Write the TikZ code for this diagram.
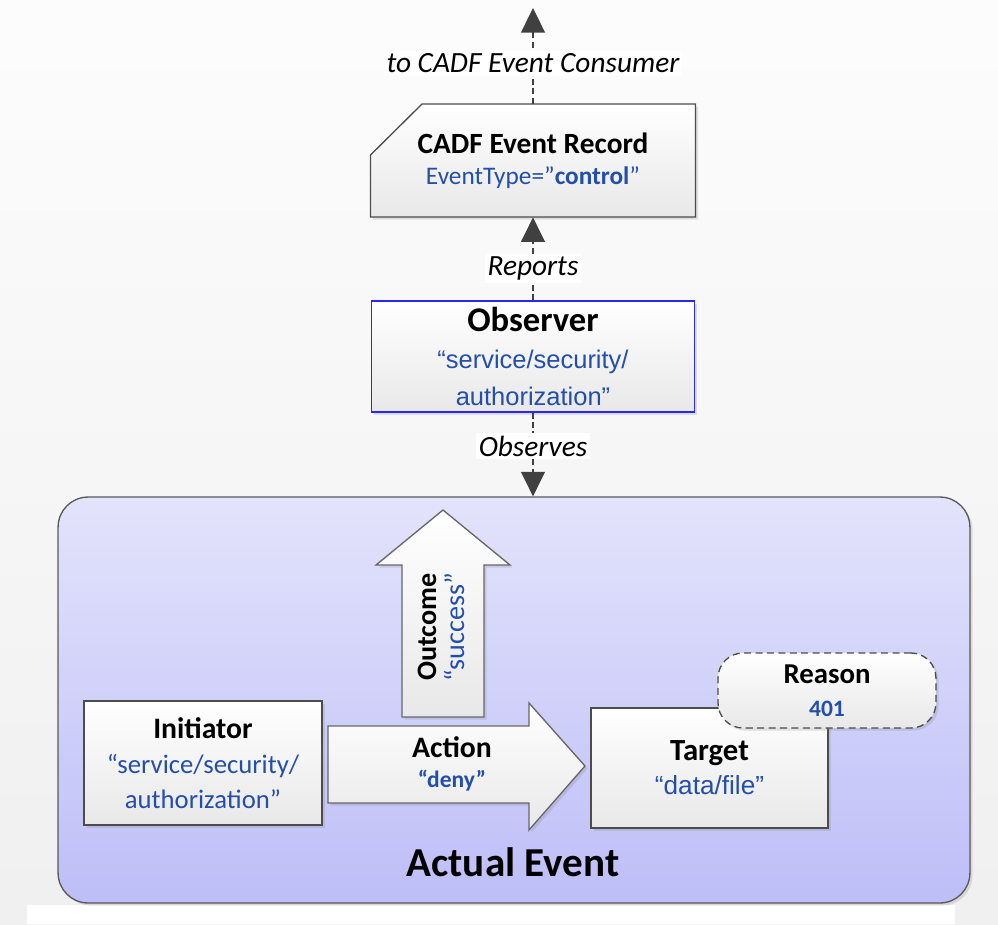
\documentclass[tikz,border=0pt]{standalone}
\usepackage{fontspec}
\setmainfont{Carlito}
\newfontfamily\arialf{Liberation Sans}
\usetikzlibrary{arrows.meta,shadows}
\definecolor{cadfblue}{RGB}{36,78,172}
\definecolor{obsblue}{RGB}{40,40,240}
\definecolor{evtop}{RGB}{227,227,252}
\definecolor{evbot}{RGB}{190,190,248}
\newcommand{\fs}[2]{\fontsize{#1}{#2}\selectfont}
\newcommand{\bl}[1]{\textcolor{cadfblue}{#1}}
\tikzset{
  boxfill/.style={top color=white, bottom color=black!9,
    drop shadow={opacity=0.22, shadow xshift=1.5pt, shadow yshift=-1.5pt}},
  box/.style={boxfill, draw=black!70, line width=0.75pt, align=center, inner sep=0pt},
  link/.style={draw=black!75, line width=0.7pt, dash pattern=on 3.5pt off 1.8pt,
    -{Triangle[width=13.6pt, length=14pt]}},
  lbl/.style={fill=white, inner sep=1.5pt, font=\fs{16.7}{18}\itshape}
}

\begin{document}
\begin{tikzpicture}[x=0.02cm, y=-0.02cm]
  \useasboundingbox (0,0) rectangle (998,924);
  \shade[top color=black!1, bottom color=black!6] (0,0) rectangle (998,924);
  \fill[white] (27,905) rectangle (955,924);

  \path[boxfill, draw=black!70, line width=0.75pt] (422,104) -- (695.5,104) -- (695.5,217)
    -- (370.5,217) -- (370.5,155) -- cycle;
  \node[minimum width=6.5cm, minimum height=2.26cm, align=center, font=\fs{16.7}{17.6}] (rec) at (533,160.5)
    {\textbf{CADF Event Record}\\ \bl{\fs{14.4}{17.6}EventType=”\textbf{control}”}};
  \node[box, draw=obsblue, minimum width=6.46cm, minimum height=2.22cm, font=\fs{14.5}{21}] (obs) at (533,356.5)
    {{\fs{19.7}{21}\bfseries Observer}\\ {\arialf\bl{“service/security/}}\\ {\arialf\bl{authorization”}}};
  \node[boxfill, top color=evtop, bottom color=evbot, draw=black!65, line width=0.75pt, rounded corners=0.6cm,
    minimum width=18.24cm, minimum height=8.12cm] (ev) at (514,700) {};
  \node[font=\fs{23.4}{23}\bfseries] (evl) at (513,862) {Actual Event};
  \coordinate (out) at (533,8);

  \draw[link] (rec.north) -- node[lbl, pos=0.42] {to CADF Event Consumer} (out);
  \draw[link] (obs.north) -- node[lbl, pos=0.38] {Reports} (rec.south);
  \draw[link] (obs.south) -- node[lbl, pos=0.4] {Observes} (ev.north -| obs.south);

  \path[boxfill, draw=black!60, line width=0.75pt] (402,717) -- (402,565) -- (376,565) -- (443,510)
    -- (510,565) -- (484,565) -- (484,717) -- cycle;
  \node[rotate=90, align=center, font=\fs{16}{16}] (oc) at (441,627) {\textbf{Outcome}\\ \bl{“success”}};
  \path[boxfill, draw=black!60, line width=0.75pt] (328,726) -- (529,726) -- (529,703) -- (585,766)
    -- (529,830) -- (529,803) -- (328,803) -- cycle;
  \node[align=center, font=\fs{16.9}{17}] (act) at (452,764) {\textbf{Action}\\ \bl{\fs{13.4}{17}\textbf{“deny”}}};

  \node[box, minimum width=4.76cm, minimum height=2.48cm, font=\fs{15.2}{19.8}] (ini) at (203,763)
    {{\fs{16.9}{19.8}\bfseries Initiator}\\ \bl{“service/security/}\\ \bl{authorization”}};
  \node[box, minimum width=4.74cm, minimum height=2.4cm, font=\fs{17.5}{19.3}] (tgt) at (709.5,768)
    {\textbf{Target}\\ {\arialf\fs{14.9}{19.3}\bl{“data/file”}}};
  \node[boxfill, draw=black!70, line width=0.75pt, dash pattern=on 4pt off 2.5pt, rounded corners=0.5cm,
    minimum width=4.36cm, minimum height=1.5cm, align=center, font=\fs{16.4}{18.7}] (rsn) at (827,690.5)
    {\textbf{Reason}\\ \bl{\fs{13.4}{18.7}\textbf{401}}};
\end{tikzpicture}
\end{document}
